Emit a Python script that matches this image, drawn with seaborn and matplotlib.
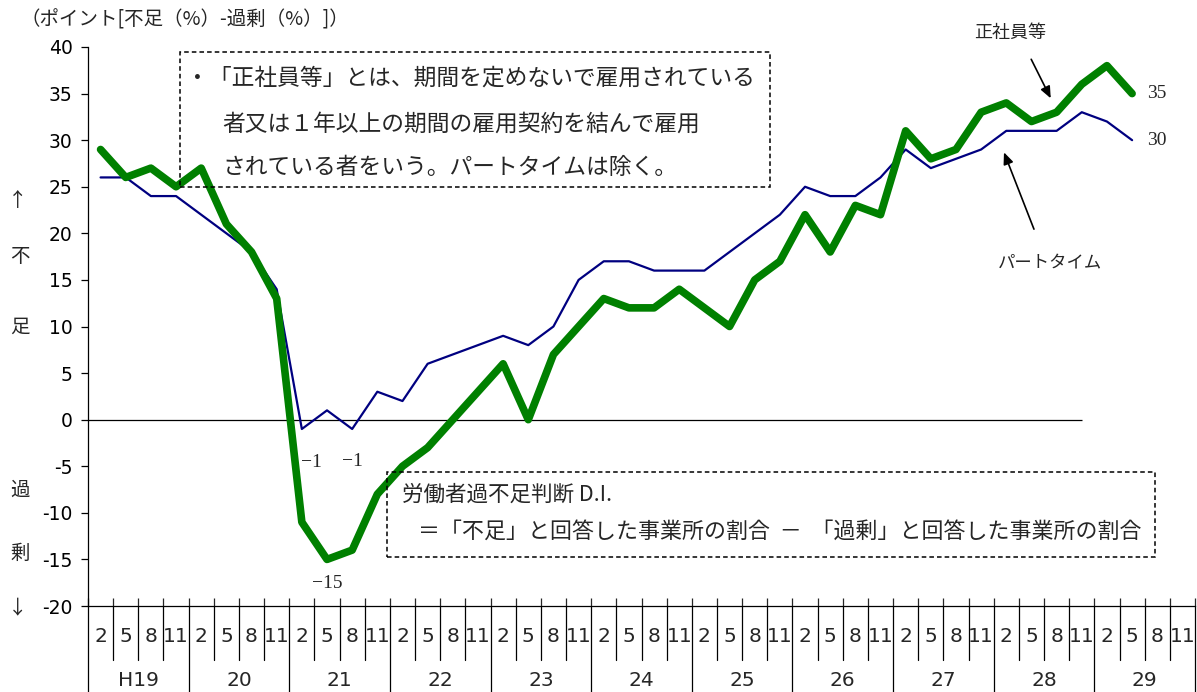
import matplotlib
matplotlib.use("Agg")
import matplotlib.pyplot as plt
import matplotlib.transforms as mtransforms
from matplotlib.patches import Rectangle
import pandas as pd
import seaborn as sns

# ---- data ----
years = ["H19", "20", "21", "22", "23", "24", "25", "26", "27", "28", "29"]
months = ["2", "5", "8", "11"]

seishain = [29, 26, 27, 25, 27, 21, 18, 13, -11, -15, -14, -8,
            -5, -3, 0, 3, 6, 0, 7, 10, 13, 12, 12, 14,
            12, 10, 15, 17, 22, 18, 23, 22, 31, 28, 29, 33,
            34, 32, 33, 36, 38, 35]
part = [26, 26, 24, 24, 22, 20, 18, 14, -1, 1, -1, 3,
        2, 6, 7, 8, 9, 8, 10, 15, 17, 17, 16, 16,
        16, 18, 20, 22, 25, 24, 24, 26, 29, 27, 28, 29,
        31, 31, 31, 33, 32, 30]

point_labels = [("part", 8, "−1", (10, -34)), ("part", 10, "−1", (0, -33)),
                ("seishain", 9, "−15", (0, -24)),
                ("seishain", 41, "35", (15, 0)), ("part", 41, "30", (15, 0))]

n_periods = len(years) * len(months)
df = pd.DataFrame({"idx": range(len(seishain)), "seishain": seishain, "part": part})

W, H = 1197, 692
sns.set_style("white")
plt.rcParams["font.family"] = ["Noto Sans CJK JP", "DejaVu Sans"]
plt.rcParams["axes.unicode_minus"] = False

fig = plt.figure(figsize=(W / 100, H / 100), dpi=100)
ax = fig.add_axes([88 / W, 1 - 606 / H, (1195 - 88) / W, (606 - 47) / H])


def fpx(x, y):
    return x / W, 1 - y / H


# boxes (drawn under the lines)
for (x0, y0, x1, y1) in [(180, 52, 770, 187), (387, 472, 1155, 557)]:
    fig.patches.append(Rectangle(fpx(x0, y1), (x1 - x0) / W, (y1 - y0) / H,
                                 transform=fig.transFigure, fill=False,
                                 edgecolor="black", linestyle=(0, (3, 2)), lw=1.1, zorder=0))

ax.hlines(0, -0.5, 39.0, color="black", lw=0.9, zorder=1)

sns.lineplot(data=df, x="idx", y="part", color="#000080", linewidth=1.6, ax=ax, zorder=3)
sns.lineplot(data=df, x="idx", y="seishain", color="#008000", linewidth=5.5, ax=ax, zorder=4)

ax.set_xlim(-0.5, n_periods - 0.5)
ax.set_ylim(-20, 40)
ax.set_yticks(range(-20, 41, 5))
ax.set_yticklabels([str(v) for v in range(-20, 41, 5)], family="DejaVu Sans", fontsize=13.5)
ax.tick_params(axis="y", direction="out", length=5, width=0.9, colors="black", pad=6, left=True)
ax.set_xticks([i - 0.5 for i in range(n_periods + 1)])
ax.set_xticklabels([])
ax.tick_params(axis="x", direction="in", length=6, width=0.9, bottom=True)
ax.set_xlabel("")
ax.set_ylabel("")
for s in ["top", "right"]:
    ax.spines[s].set_visible(False)
for s in ["left", "bottom"]:
    ax.spines[s].set_color("black")
    ax.spines[s].set_linewidth(0.9)

# multi-level category axis
trans = mtransforms.blended_transform_factory(ax.transData, ax.transAxes)
month_bottom = -(660 - 606) / 559
year_bottom = -(692 - 606) / 559
for i in range(n_periods + 1):
    yb = year_bottom if i % 4 == 0 else month_bottom
    ax.plot([i - 0.5, i - 0.5], [0, yb], transform=trans, color="black",
            lw=0.9, clip_on=False)
for yi, yr in enumerate(years):
    for mi, m in enumerate(months):
        ax.text(yi * 4 + mi, -(637 - 606) / 559, m, transform=trans, ha="center",
                va="center", fontsize=14.5, family="DejaVu Sans")
    ax.text(yi * 4 + 1.5, -(680 - 606) / 559, yr, transform=trans, ha="center",
            va="center", fontsize=14.5, family="DejaVu Sans")

# value labels
series = {"seishain": seishain, "part": part}
for key, i, txt, off in point_labels:
    ax.annotate(txt, xy=(i, series[key][i]), xytext=off, textcoords="offset pixels",
                ha="left" if off[0] > 12 else "center", va="center",
                family="Liberation Serif", fontsize=14)

# arrows and series names
def to_data(px, py):
    return (px - 88) / 25.16 - 0.5, (419 - py) / 9.32

ax.annotate("", xy=to_data(1052, 100), xytext=to_data(1030, 56),
            arrowprops=dict(arrowstyle="-|>,head_length=0.7,head_width=0.3", color="black", lw=1.2),
            annotation_clip=False)
ax.annotate("", xy=to_data(1003, 149), xytext=to_data(1035, 231),
            arrowprops=dict(arrowstyle="-|>,head_length=0.7,head_width=0.3", color="black", lw=1.2),
            annotation_clip=False)
fig.text(*fpx(1010, 33), "正社員等", ha="center", va="center", fontsize=13)
fig.text(*fpx(1050, 263), "パートタイム", ha="center", va="center", fontsize=12.5)

# titles and side labels
fig.text(*fpx(20, 20), "（ポイント[不足（%）-過剰（%）]）", ha="left", va="center", fontsize=14)
for (px, py, ch) in [(18, 200, "↑"), (20, 256, "不"), (20, 327, "足"),
                     (20, 490, "過"), (20, 553, "剰"), (18, 608, "↓")]:
    fig.text(*fpx(px, py), ch, ha="center", va="center", fontsize=14)

# notes
fig.text(*fpx(186, 78), "・「正社員等」とは、期間を定めないで雇用されている", ha="left", va="center", fontsize=16.4)
fig.text(*fpx(222, 124), "者又は１年以上の期間の雇用契約を結んで雇用", ha="left", va="center", fontsize=16.4)
fig.text(*fpx(222, 167), "されている者をいう。パートタイムは除く。", ha="left", va="center", fontsize=16.4)
fig.text(*fpx(402, 495), "労働者過不足判断 D.I.", ha="left", va="center", fontsize=15.5)
fig.text(*fpx(418, 532), "＝「不足」と回答した事業所の割合  －  「過剰」と回答した事業所の割合",
         ha="left", va="center", fontsize=15.8)

fig.savefig("out.png", dpi=100)
